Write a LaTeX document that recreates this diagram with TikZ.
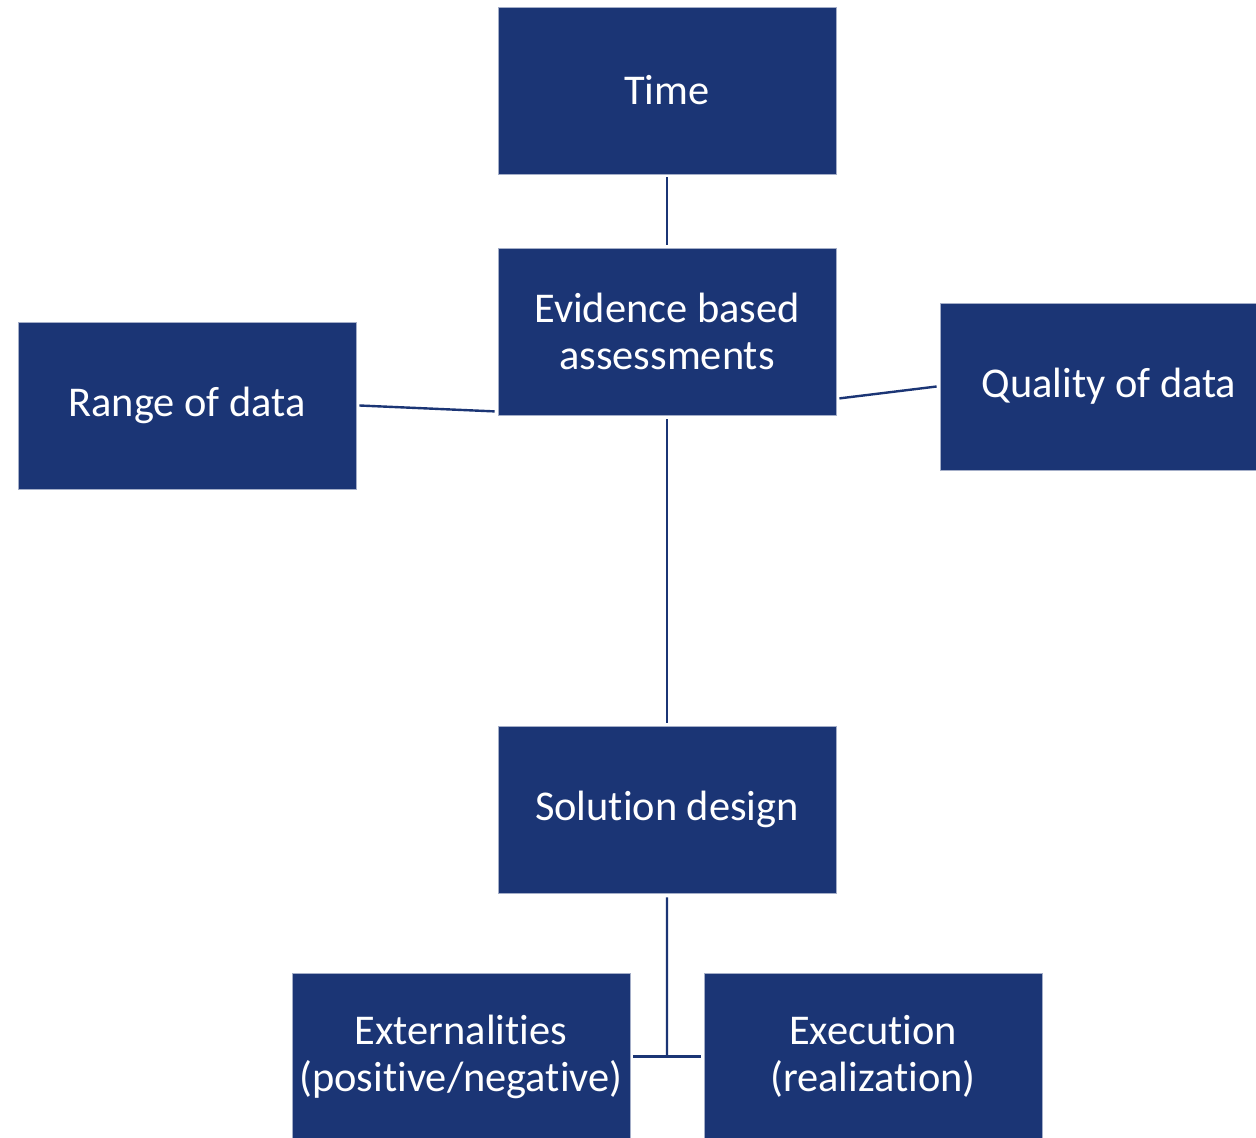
\documentclass[tikz,border=0pt]{standalone}
\usepackage{fontspec}
\setmainfont[Ligatures=NoCommon]{Carlito}
\usetikzlibrary{calc}
\definecolor{boxblue}{HTML}{1B3575}
\begin{document}
\begin{tikzpicture}[x=0.5pt,y=-0.5pt,
  box/.style={fill=boxblue,draw=boxblue!40,line width=0.4pt,text=white,align=center,
    minimum width=169pt,minimum height=83.5pt,inner sep=0pt,
    font=\fontsize{21.2}{23.5}\selectfont},
  link/.style={draw=boxblue,line width=1.2pt}]
\clip (0,0) rectangle (1256,1138);
\fill[white] (0,0) rectangle (1256,1138);
\node[box] (time) at (667,90.5) {Time};
\node[box] (ev) at (667,331.5) {Evidence based\\assessments};
\node[box] (range) at (187,405.5) {Range of data};
\node[box] (qual) at (1109,386.5) {Quality of data};
\node[box] (sol) at (667,809.5) {Solution design};
\node[box] (ext) at (461,1056.5) {Externalities\\(positive/negative)};
\node[box] (exe) at (873,1056.5) {Execution\\(realization)};
\coordinate (mid) at ($(ext.east)!0.5!(exe.west)$);
\draw[link] ($(time.south)+(0,3)$) -- ($(ev.north)+(0,-3)$);
\draw[link] ($(range.east)+(3,0)$) -- ($(ev.south west)+(-3,-4)$);
\draw[link] ($(ev.south east)+(3,-17)$) -- ($(qual.west)+(-3,0)$);
\draw[link] ($(ev.south)+(0,4)$) -- ($(sol.north)+(0,-3)$);
\draw[link] ($(sol.south)+(0,4)$) -- (mid);
\draw[link] ($(ext.east)+(3,0)$) -- ($(exe.west)+(-3,0)$);
\end{tikzpicture}
\end{document}
